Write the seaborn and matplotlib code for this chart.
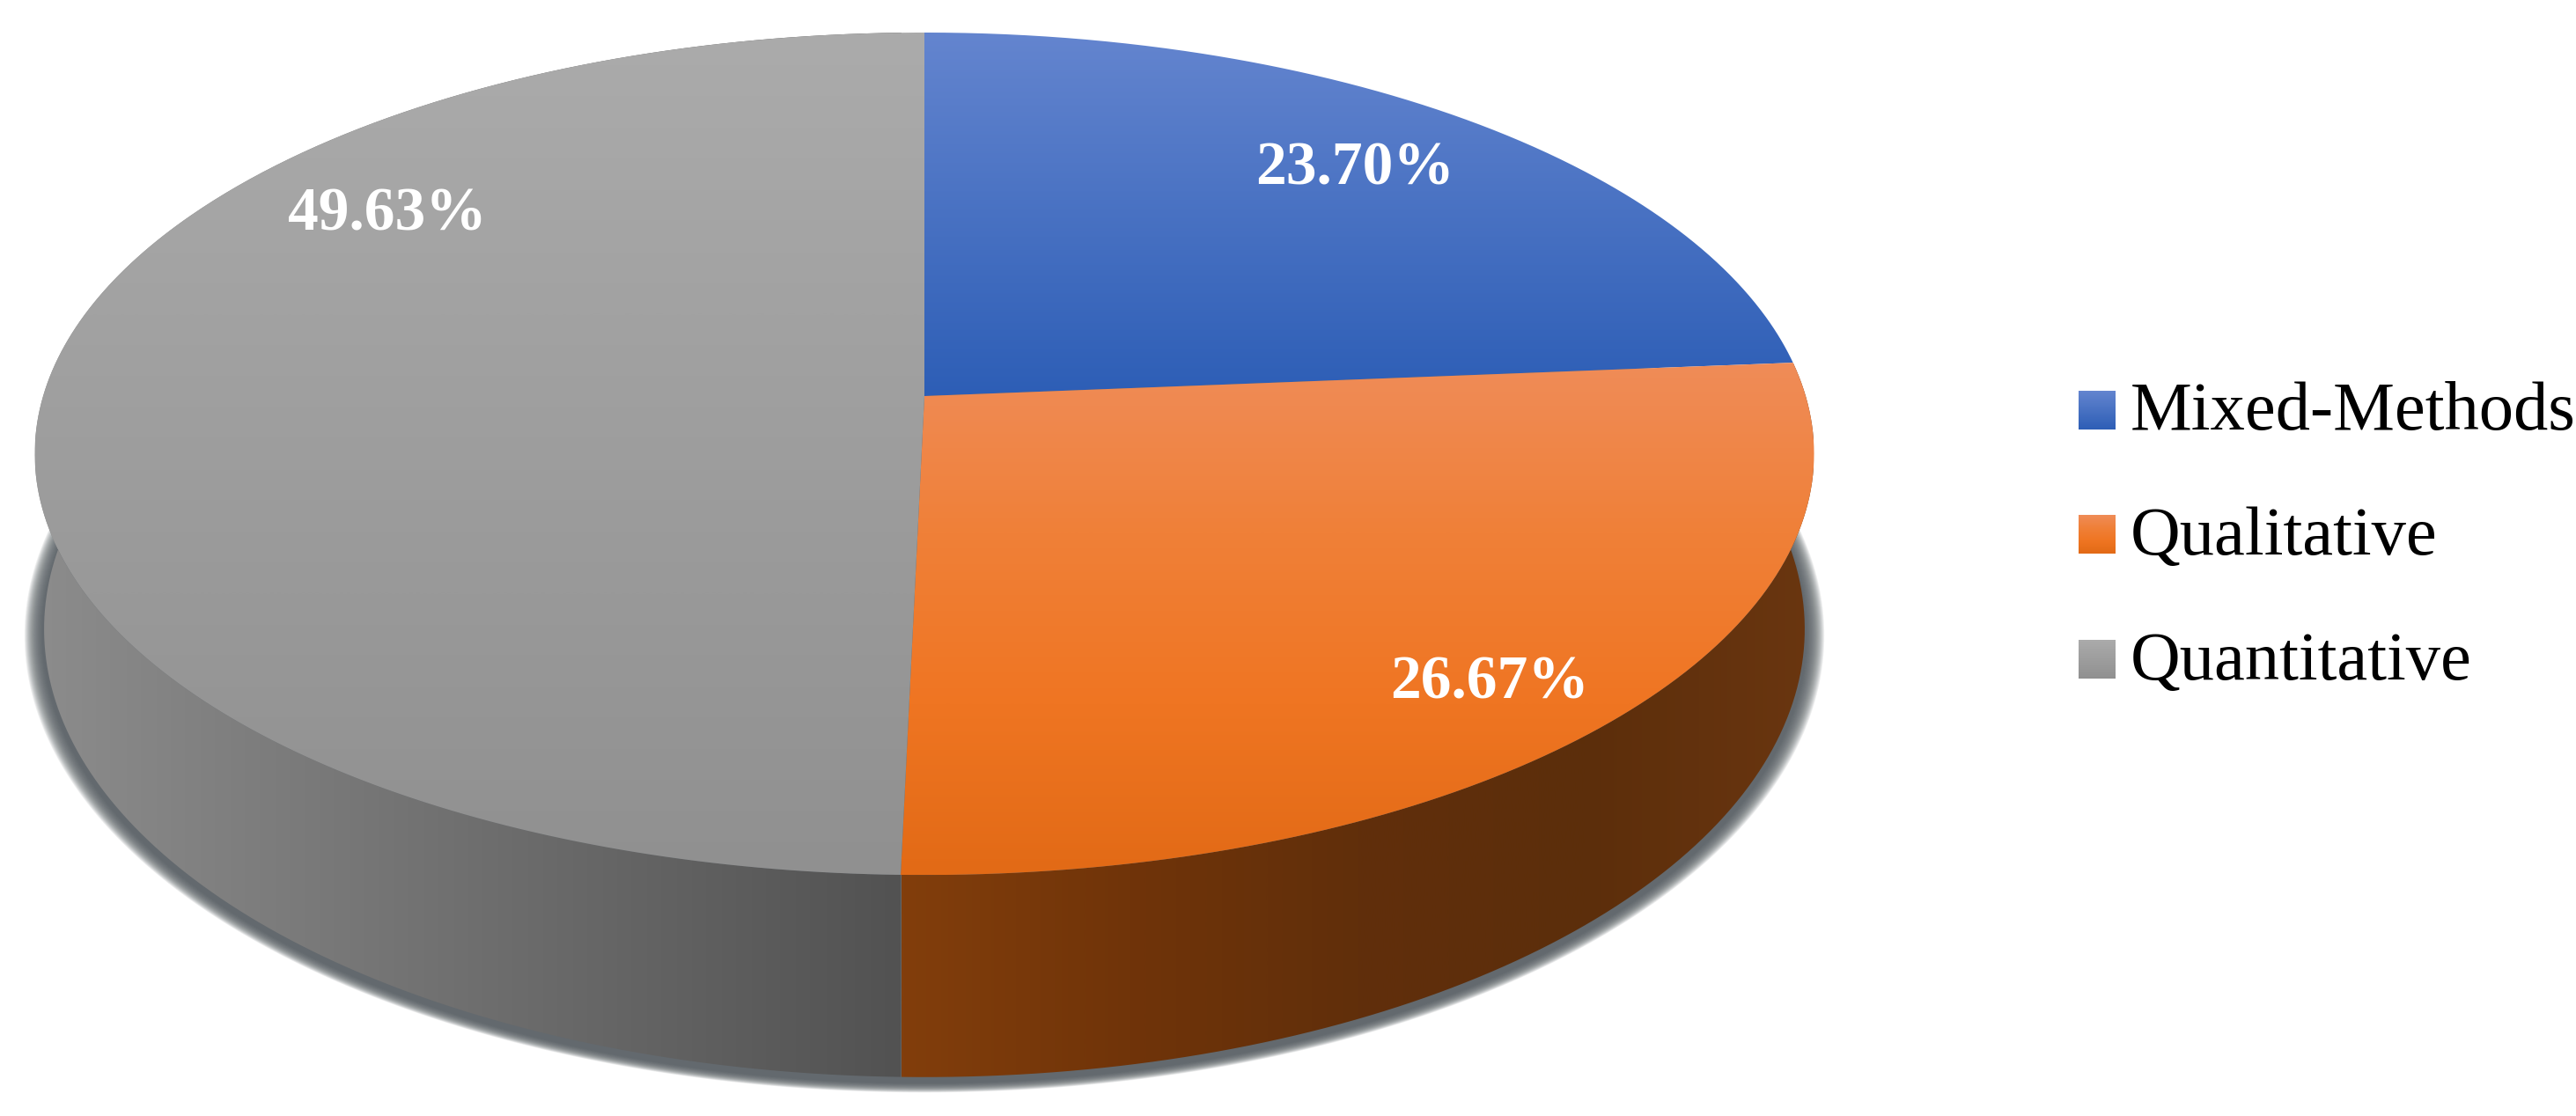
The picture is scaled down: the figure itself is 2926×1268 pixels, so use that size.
import numpy as np
import matplotlib
matplotlib.use("Agg")
import matplotlib.pyplot as plt
import seaborn as sns
from matplotlib.patches import PathPatch
from matplotlib.path import Path

categories = ["Mixed-Methods", "Qualitative", "Quantitative"]
shares = [23.70, 26.67, 49.63]
labels = ["23.70%", "26.67%", "49.63%"]
face_stops = [
    ["#6485cf", "#2d5eb6"],
    ["#ef8c58", "#f08038", "#ef7522", "#e26a16"],
    ["#ababab", "#909090"],
]
wall_stops = {
    1: ["#823e0c", "#703409", "#612f0b", "#5c2e0b", "#6a3610"],
    2: ["#8c8c8c", "#525252"],
}

sns.set_theme(style="white")
W, H = 2926, 1268
fig = plt.figure(figsize=(W / 100, H / 100), dpi=100, facecolor="white")
ax = fig.add_axes([0, 0, 1, 1])
ax.set_axis_off()

CX, Y0, A, B, K = 1050, 450, 1001, 469.6, 0.137
A2, Y2, B2 = 990.5, 645, 499.5


def ring(theta, a=A, y0=Y0, b=B):
    u, v = np.sin(theta), np.cos(theta)
    d = 1 + K * v
    return np.column_stack([CX + a * u / d, y0 - b * v / d])


def gradient(patch, stops, horizontal=False, extent=None):
    cmap = sns.blend_palette(stops, n_colors=256, as_cmap=True)
    g = np.linspace(0, 1, 512)
    g = g[None, :] if horizontal else g[:, None]
    if extent is None:
        bb = patch.get_path().get_extents()
        extent = (bb.x0, bb.x1, bb.y1, bb.y0)
    im = ax.imshow(g, cmap=cmap, extent=extent, origin="upper", aspect="auto",
                   zorder=patch.get_zorder(), vmin=0, vmax=1, interpolation="bilinear")
    im.set_clip_path(patch)
    return im


def poly(pts, z):
    p = PathPatch(Path(np.vstack([pts, pts[:1]])), fc="none", ec="none", zorder=z)
    ax.add_patch(p)
    return p


edges = 2 * np.pi * np.concatenate([[0], np.cumsum(shares)]) / np.sum(shares)

# soft shadow under the bottom rim
full = np.linspace(0, 2 * np.pi, 600)
for e in np.linspace(22, 2, 21):
    rim = ring(full, A2 + e, Y2 + 6, B2 + e * 0.45)
    ax.fill(rim[:, 0], rim[:, 1], fc="#565c62", ec="none", alpha=0.10, zorder=1)

# side walls
wall_extent = {1: (1024, 2060, 1268, 0), 2: (40, 1024, 1268, 0)}
for i in (1, 2):
    th = np.linspace(edges[i], edges[i + 1], 400)
    pts = np.vstack([ring(th), ring(th, A2, Y2, B2)[::-1]])
    gradient(poly(pts, 2), wall_stops[i], horizontal=True, extent=wall_extent[i])

# top faces
for i in range(3):
    th = np.linspace(edges[i], edges[i + 1], 400)
    pts = np.vstack([[CX, Y0], ring(th)])
    gradient(poly(pts, 3), face_stops[i])

# value labels
label_xy = [(1539, 209), (1692, 793), (440, 262)]
for s, (x, y) in zip(labels, label_xy):
    ax.text(x, y, s, color="white", fontsize=50, fontweight="bold",
            family="Liberation Serif", ha="center", va="baseline", zorder=5)

# legend
sw_y = [(444, 488), (585, 629), (727, 771)]
base_y = [488, 630, 772]
for i, name in enumerate(categories):
    p = PathPatch(Path([(2361, sw_y[i][0]), (2403, sw_y[i][0]), (2403, sw_y[i][1]),
                        (2361, sw_y[i][1]), (2361, sw_y[i][0])]), fc="none", ec="none", zorder=3)
    ax.add_patch(p)
    gradient(p, face_stops[i])
    ax.text(2420, base_y[i], name, color="black", fontsize=56.5,
            family="Liberation Serif", ha="left", va="baseline", zorder=5)

ax.set_xlim(0, W)
ax.set_ylim(H, 0)
fig.savefig("out.png", dpi=100, facecolor="white")
